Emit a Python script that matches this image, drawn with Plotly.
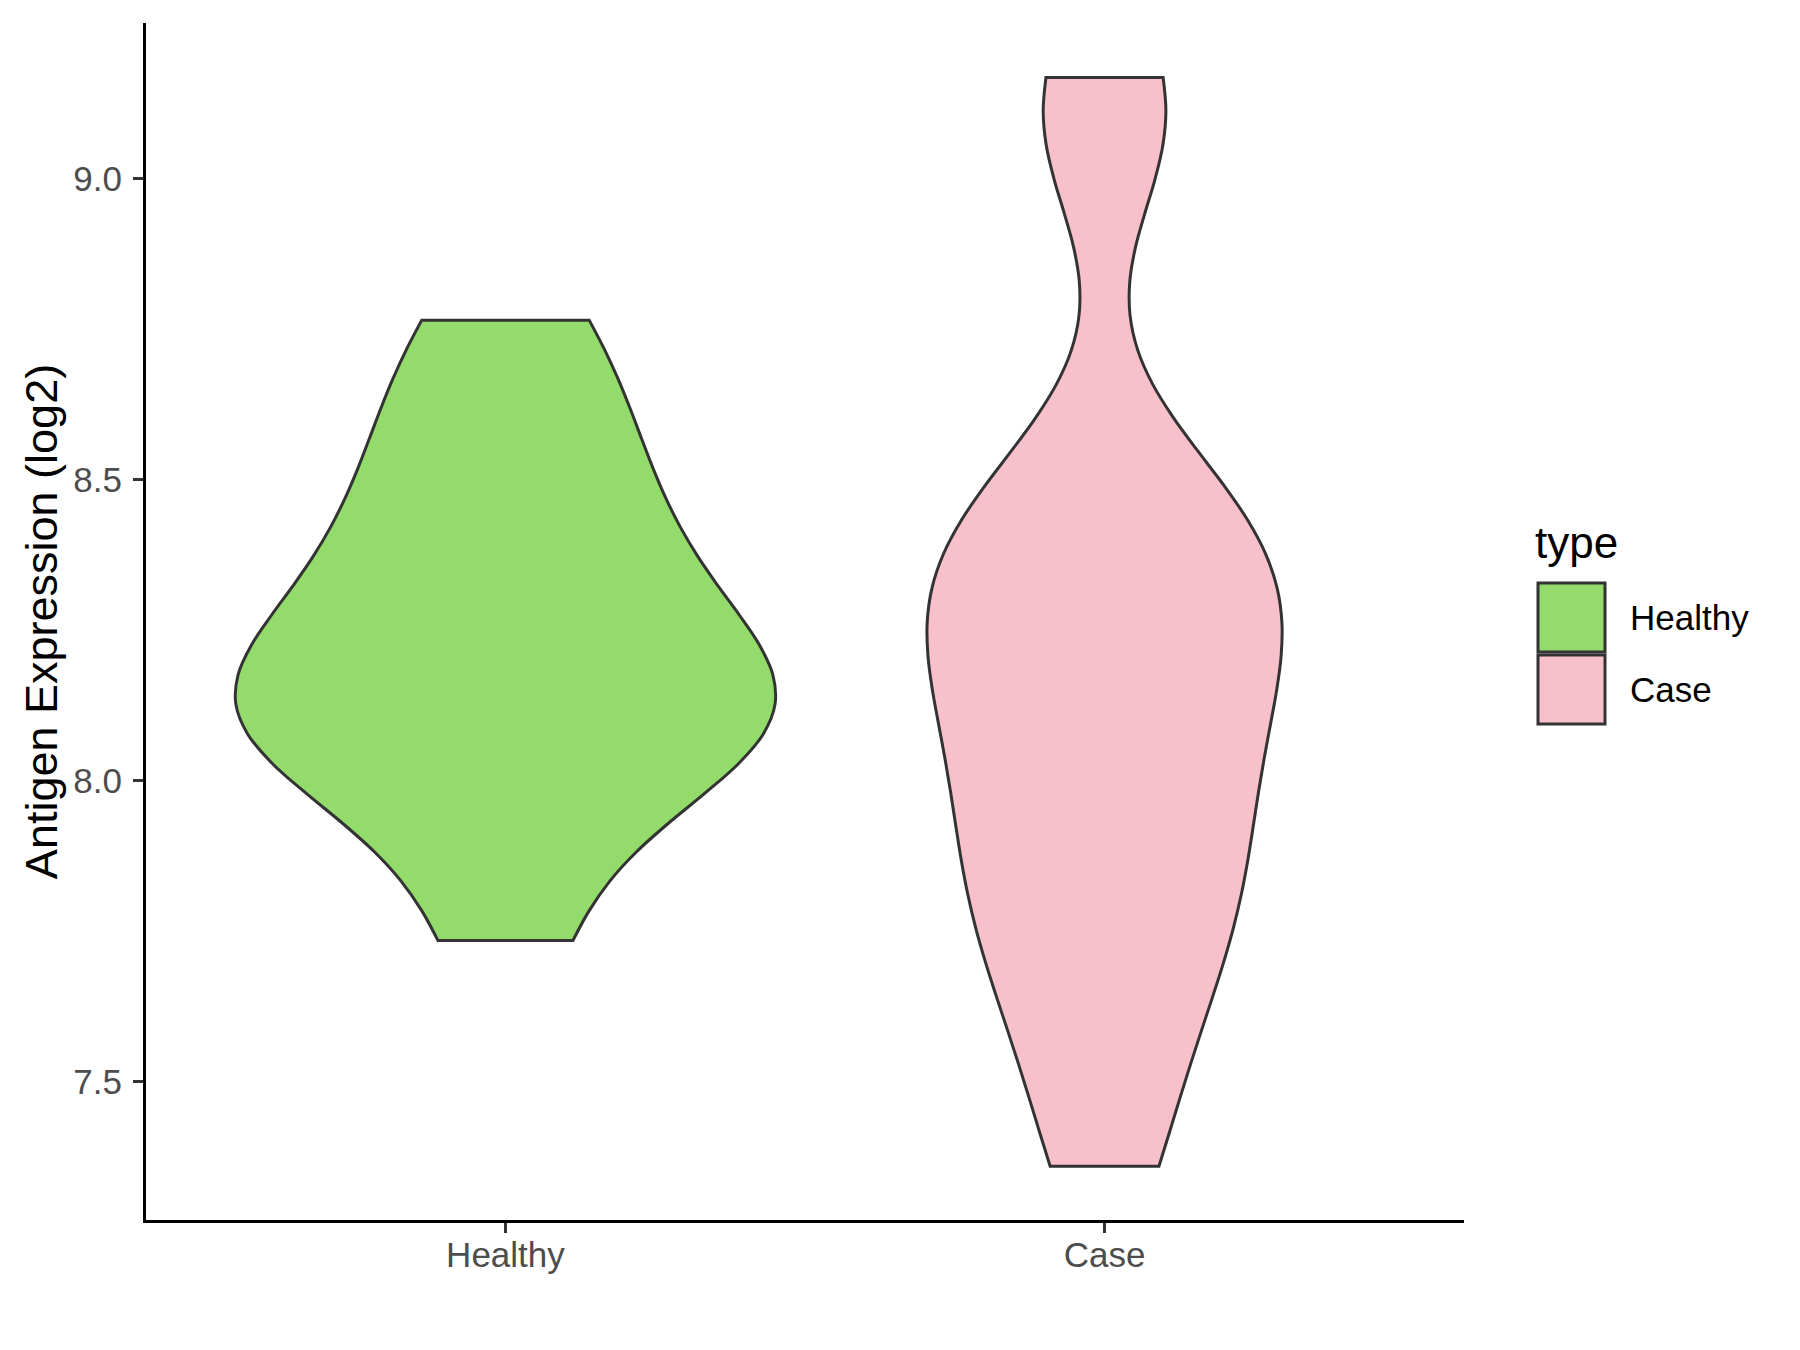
import plotly.graph_objects as go

# ---- data ----
categories = ["Healthy", "Case"]
healthy_values = [7.735, 7.97, 8.05, 8.10, 8.12, 8.15, 8.20, 8.32, 8.38, 8.50, 8.62, 8.765]
case_values = [7.36, 7.56, 7.70, 7.79, 7.88, 7.97, 8.07, 8.16, 8.23, 8.29, 8.36, 8.43, 8.50, 9.06, 9.168]
y_tick_values = [7.5, 8.0, 8.5, 9.0]
y_tick_labels = ["7.5", "8.0", "8.5", "9.0"]
legend_title = "type"
y_title = "Antigen Expression (log2)"

# ---- styles ----
fill_colors = {"Healthy": "#93DB6B", "Case": "#F7C0CB"}
bandwidths = {"Healthy": 0.15, "Case": 0.17}
violin_widths = {"Healthy": 0.9, "Case": 0.592}
outline = "#333333"
font_family = "Liberation Sans, Arial, sans-serif"

series = {"Healthy": healthy_values, "Case": case_values}

fig = go.Figure()
for cat in categories:
    vals = series[cat]
    fig.add_trace(go.Violin(
        x=[cat] * len(vals),
        y=vals,
        name=cat,
        fillcolor=fill_colors[cat],
        line=dict(color=outline, width=3),
        opacity=1,
        spanmode="hard",
        bandwidth=bandwidths[cat],
        width=violin_widths[cat],
        points=False,
        box_visible=False,
        meanline_visible=False,
        showlegend=False,
        hoveron="violins",
    ))

W, H = 1800, 1350
L, R, T, B = 146, 336, 23, 130
pw, ph = W - L - R, H - T - B


def px2paper_x(px):
    return (px - L) / pw


def px2paper_y(py):
    return (H - B - py) / ph


shapes = []
annotations = []
# manual legend (ggplot-style large keys)
key_boxes = {"Healthy": (583, 652), "Case": (655, 724)}
for cat in categories:
    y0, y1 = key_boxes[cat]
    shapes.append(dict(
        type="rect", xref="paper", yref="paper",
        x0=px2paper_x(1538), x1=px2paper_x(1605),
        y0=px2paper_y(y1), y1=px2paper_y(y0),
        fillcolor=fill_colors[cat], line=dict(color=outline, width=3),
    ))
    annotations.append(dict(
        xref="paper", yref="paper", x=px2paper_x(1628), y=px2paper_y((y0 + y1) / 2),
        text=cat, showarrow=False, xanchor="left", yanchor="middle",
        font=dict(family=font_family, size=35, color="#000000"),
    ))
annotations.append(dict(
    xref="paper", yref="paper", x=px2paper_x(1533), y=px2paper_y(542),
    text=legend_title, showarrow=False, xanchor="left", yanchor="middle",
    font=dict(family=font_family, size=44, color="#000000"),
))

fig.update_layout(
    width=W, height=H,
    margin=dict(l=L, r=R, t=T, b=B, autoexpand=False),
    plot_bgcolor="white", paper_bgcolor="white",
    violinmode="overlay",
    showlegend=False,
    font=dict(family=font_family),
    shapes=shapes,
    annotations=annotations,
    xaxis=dict(
        type="category",
        categoryorder="array", categoryarray=categories,
        range=[-0.6, 1.6],
        showline=True, linecolor="#000000", linewidth=3.2,
        ticks="outside", ticklen=10, tickwidth=2.6, tickcolor="#333333",
        tickfont=dict(family=font_family, size=35, color="#4D4D4D"),
        ticklabelstandoff=-8,
        showgrid=False, zeroline=False,
    ),
    yaxis=dict(
        range=[7.2707, 9.2584],
        tickvals=y_tick_values, ticktext=y_tick_labels,
        showline=True, linecolor="#000000", linewidth=3.2,
        ticks="outside", ticklen=10, tickwidth=2.6, tickcolor="#333333",
        tickfont=dict(family=font_family, size=35, color="#4D4D4D"),
        ticklabelstandoff=4,
        showgrid=False, zeroline=False,
        title=dict(text=y_title, font=dict(family=font_family, size=45, color="#000000"), standoff=2),
    ),
)

fig.write_html("out.html", config={"displayModeBar": False},
               post_script="document.body.style.margin='0';")
